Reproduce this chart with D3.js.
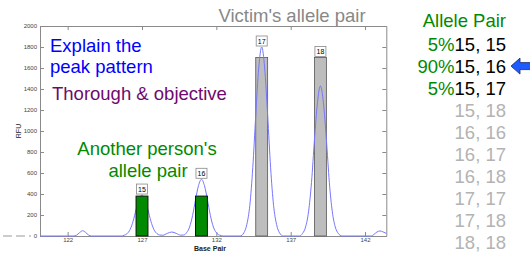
<!DOCTYPE html>
<html>
<head>
<meta charset="utf-8">
<script src="https://cdn.jsdelivr.net/npm/d3@7"></script>
<style>
  body { margin: 0; background: #fff; }
  svg { display: block; font-family: "Liberation Sans", Arial, sans-serif; }
</style>
</head>
<body>
<svg id="chart"></svg>
<script>
const width = 530;
const height = 255;

// allele bars
const alleles = ["15", "16", "17", "18"];
const alleleBp = [127, 131, 135.05, 139];
const barRfu = [380, 380, 1700, 1700];
const barOwner = ["other", "other", "victim", "victim"];
const peakRfu = [390, 540, 1800, 1430];

// electropherogram trace
const traceBp = [
  120.14, 122.4, 122.6, 122.8, 123.0, 123.2, 123.4, 123.6,
  125.6, 125.8, 126.0, 126.2, 126.4, 126.6, 126.8, 127.0, 127.2, 127.4, 127.6, 127.8, 128.0, 128.2,
  128.4, 128.7, 129.0, 129.3, 129.6,
  129.8, 130.0, 130.2, 130.4, 130.6, 130.8, 131.0, 131.2, 131.4, 131.6, 131.8, 132.0, 132.2, 132.5,
  133.6, 133.85, 134.05, 134.25, 134.45, 134.65, 134.85, 135.05, 135.25, 135.45, 135.65, 135.85, 136.05, 136.25, 136.5,
  137.6, 137.8, 138.0, 138.2, 138.4, 138.6, 138.8, 139.0, 139.2, 139.4, 139.6, 139.8, 140.0, 140.2, 140.45,
  142.4, 142.6, 142.8, 143.0, 143.2, 143.43
];
const traceRfu = [
  0, 0, 8, 32, 50, 35, 10, 0,
  0, 7, 23, 62, 140, 250, 347, 390, 347, 250, 140, 62, 23, 9,
  7, 25, 38, 25, 8,
  9, 32, 86, 194, 346, 480, 540, 480, 346, 194, 86, 32, 9, 0,
  0, 30, 110, 290, 650, 1150, 1600, 1800, 1600, 1150, 650, 290, 110, 30, 0,
  0, 25, 85, 230, 510, 920, 1270, 1430, 1270, 920, 510, 230, 85, 25, 0,
  0, 15, 38, 48, 40, 25
];

const xTicks = [122, 127, 132, 137, 142];
const yTicks = [0, 200, 400, 600, 800, 1000, 1200, 1400, 1600, 1800, 2000];

// allele pair list
const pairs = ["15, 15", "15, 16", "15, 17", "15, 18", "16, 16", "16, 17", "16, 18", "17, 17", "17, 18", "18, 18"];
const pairPercent = ["5%", "90%", "5%", "", "", "", "", "", "", ""];

const plot = { left: 40, right: 386.3, top: 26, bottom: 236 };

const x = d3.scaleLinear().domain([120.14, 143.43]).range([plot.left, plot.right]);
const y = d3.scaleLinear().domain([0, 2000]).range([plot.bottom, plot.top]);

const svg = d3.select("#chart").attr("width", width).attr("height", height);

const axisColor = "#8a8a8a";

// dashed lead-in left of the plot
svg.append("line")
  .attr("x1", 3).attr("x2", 31)
  .attr("y1", plot.bottom).attr("y2", plot.bottom)
  .attr("stroke", "#999").attr("stroke-dasharray", "9,4");

// axes (ticks pointing inward)
const styleAxis = (g) => {
  g.selectAll(".domain").attr("stroke", axisColor);
  g.selectAll(".tick line").attr("stroke", axisColor);
  g.selectAll(".tick text").attr("fill", "#444").style("font-size", "6px");
};

svg.append("g")
  .attr("transform", `translate(${plot.left},0)`)
  .call(d3.axisLeft(y).tickValues(yTicks).tickFormat(d3.format("d")).tickSizeInner(-4).tickSizeOuter(0).tickPadding(3))
  .call(styleAxis);

svg.append("g")
  .attr("transform", `translate(${plot.right},0)`)
  .call(d3.axisRight(y).tickValues(yTicks).tickSizeInner(-4).tickSizeOuter(0).tickFormat(""))
  .call(styleAxis);

svg.append("g")
  .attr("transform", `translate(0,${plot.bottom})`)
  .call(d3.axisBottom(x).tickValues(xTicks).tickSizeInner(-4).tickSizeOuter(0).tickPadding(2))
  .call(styleAxis);

svg.append("g")
  .attr("transform", `translate(0,${plot.top})`)
  .call(d3.axisTop(x).tickValues(xTicks).tickSizeInner(-4).tickSizeOuter(0).tickFormat(""))
  .call(styleAxis);

// axis titles
svg.append("text")
  .attr("transform", `translate(21,${(plot.top + plot.bottom) / 2}) rotate(-90)`)
  .attr("text-anchor", "middle")
  .style("font-size", "7px")
  .attr("fill", "#222")
  .text("RFU");

svg.append("text")
  .attr("x", 210).attr("y", 250.5)
  .attr("text-anchor", "middle")
  .style("font-size", "7px")
  .style("font-weight", "bold")
  .attr("fill", "#222")
  .text("Base Pair");

const barW = x(127.4) - x(126.6);
const barData = alleles.map((a, i) => ({ a, bp: alleleBp[i], rfu: barRfu[i], owner: barOwner[i], peak: peakRfu[i] }));

// victim bars sit under the trace
svg.selectAll(".victim-bar")
  .data(barData.filter((d) => d.owner === "victim"))
  .enter()
  .append("rect")
  .attr("class", "victim-bar")
  .attr("x", (d) => x(d.bp) - barW / 2)
  .attr("y", (d) => y(d.rfu))
  .attr("width", barW)
  .attr("height", (d) => y(0) - y(d.rfu))
  .attr("fill", "#bdbdbd")
  .attr("stroke", "#555")
  .attr("stroke-width", 0.8);

// trace
const trace = traceBp.map((b, i) => [b, traceRfu[i]]);
svg.append("path")
  .datum(trace)
  .attr("fill", "none")
  .attr("stroke", "#7676ff")
  .attr("stroke-width", 1)
  .attr("d", d3.line().x((d) => x(d[0])).y((d) => y(d[1])).curve(d3.curveMonotoneX));

// other person's bars cover the trace
svg.selectAll(".other-bar")
  .data(barData.filter((d) => d.owner === "other"))
  .enter()
  .append("rect")
  .attr("class", "other-bar")
  .attr("x", (d) => x(d.bp) - barW / 2)
  .attr("y", (d) => y(d.rfu))
  .attr("width", barW)
  .attr("height", (d) => y(0) - y(d.rfu))
  .attr("fill", "#008a00")
  .attr("stroke", "#111")
  .attr("stroke-width", 1);

// allele labels above peaks
const labels = svg.selectAll(".allele-label")
  .data(barData)
  .enter()
  .append("g")
  .attr("class", "allele-label")
  .attr("transform", (d) => `translate(${x(d.bp)},${Math.min(y(d.peak), y(d.rfu)) - 1})`);

labels.append("rect")
  .attr("x", -5.5).attr("y", -10)
  .attr("width", 11).attr("height", 10)
  .attr("fill", "#fff")
  .attr("stroke", "#888")
  .attr("stroke-width", 0.8);

labels.append("text")
  .attr("y", -2.5)
  .attr("text-anchor", "middle")
  .style("font-size", "7px")
  .attr("fill", "#000")
  .text((d) => d.a);

// annotations
const big = "18.5px";
const explain = svg.append("text").style("font-size", big).attr("fill", "#0000ff");
explain.append("tspan").attr("x", 50).attr("y", 51.5).text("Explain the");
explain.append("tspan").attr("x", 50).attr("y", 73).text("peak pattern");

svg.append("text")
  .attr("x", 52).attr("y", 100)
  .style("font-size", big)
  .attr("fill", "#6e0a6e")
  .text("Thorough & objective");

const other = svg.append("text").style("font-size", big).attr("fill", "#008a00").attr("text-anchor", "middle");
other.append("tspan").attr("x", 147).attr("y", 155).text("Another person's");
other.append("tspan").attr("x", 148).attr("y", 176.5).text("allele pair");

svg.append("text")
  .attr("x", 292).attr("y", 21.5)
  .attr("text-anchor", "middle")
  .style("font-size", big)
  .attr("fill", "#888")
  .text("Victim's allele pair");

// allele pair list
const listRight = 506;
svg.append("text")
  .attr("x", listRight).attr("y", 27.3)
  .attr("text-anchor", "end")
  .style("font-size", big)
  .attr("fill", "#008a00")
  .text("Allele Pair");

const rows = svg.selectAll(".pair")
  .data(pairs)
  .enter()
  .append("text")
  .attr("class", "pair")
  .attr("x", listRight)
  .attr("y", (d, i) => 50.5 + i * 22.1)
  .attr("text-anchor", "end")
  .style("font-size", big);

rows.append("tspan")
  .attr("fill", "#008a00")
  .text((d, i) => pairPercent[i]);

rows.append("tspan")
  .attr("fill", (d, i) => (pairPercent[i] ? "#000" : "#b3b3b3"))
  .text((d) => d);

// arrow pointing at the most likely pair
const best = pairPercent.indexOf("90%");
const ay = 50.5 + best * 22.1 - 6.5;
svg.append("path")
  .attr("d", `M511,${ay} L520,${ay - 8} L520,${ay - 3.5} L531,${ay - 3.5} L531,${ay + 3.5} L520,${ay + 3.5} L520,${ay + 8} Z`)
  .attr("fill", "#1f5cff")
  .attr("stroke", "#1a2a70")
  .attr("stroke-width", 0.8);
</script>
</body>
</html>
